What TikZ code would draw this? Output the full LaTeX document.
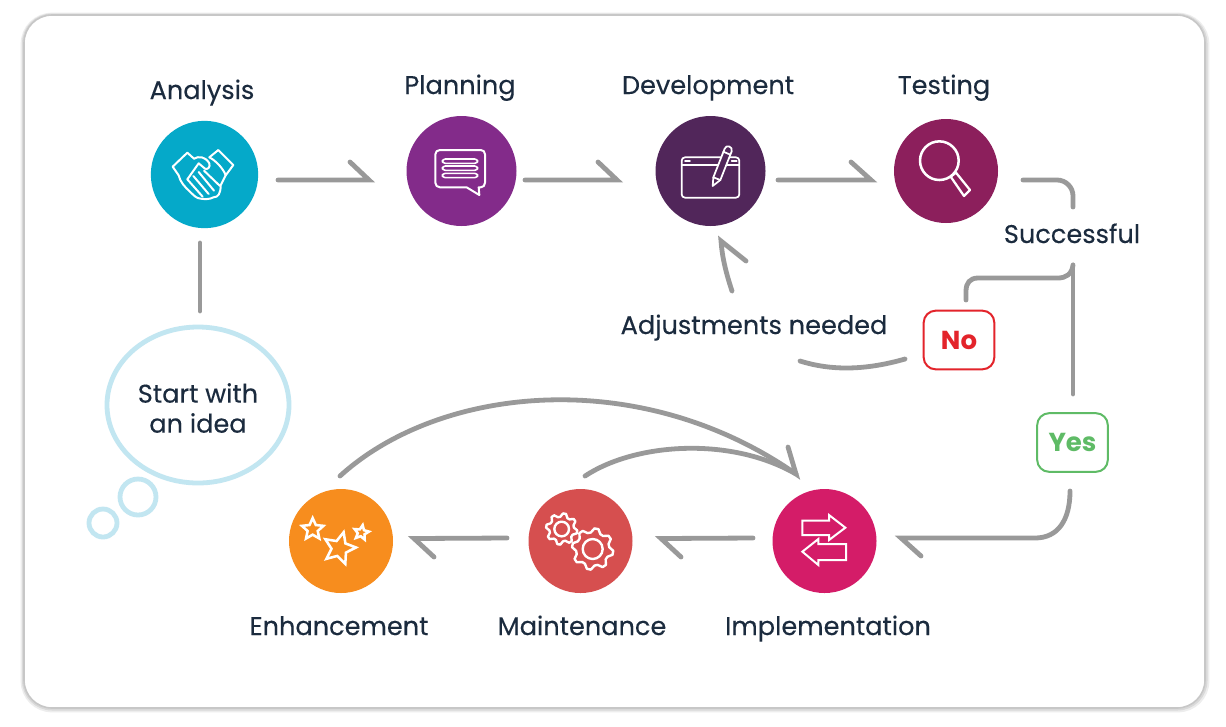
\documentclass[tikz,border=0pt]{standalone}
\usepackage{fontspec}
\setmainfont{Poppins}
\newfontfamily\labfont{Poppins}[FakeBold=0.25]
\usetikzlibrary{shapes.geometric,calc}
\definecolor{ink}{HTML}{1B2B3E}
\definecolor{wire}{HTML}{999999}
\definecolor{cAna}{HTML}{05A9C9}
\definecolor{cPla}{HTML}{832B8A}
\definecolor{cDev}{HTML}{51265A}
\definecolor{cTes}{HTML}{8C1F5C}
\definecolor{cEnh}{HTML}{F78D1E}
\definecolor{cMai}{HTML}{D64F4F}
\definecolor{cImp}{HTML}{D41C68}
\definecolor{bub}{HTML}{C2E6F1}
\definecolor{noR}{HTML}{E3242B}
\definecolor{yesG}{HTML}{5FBB66}
\tikzset{
  stage/.style={circle,inner sep=0pt,minimum size=#1,fill},
  lab/.style={text=ink,font=\labfont\fontsize{19.2}{22.5}\selectfont,inner sep=0pt,align=center,anchor=base},
  conn/.style={draw=wire,line width=3.6pt,line cap=round,line join=miter,miter limit=20},
  tagbox/.style={draw=#1,line width=1.5pt,rounded corners=9pt,minimum width=53pt,minimum height=44pt,inner sep=0pt,text=#1,font=\fontsize{19.5}{22}\selectfont\bfseries},
  ico/.style={draw=white,line width=1.5pt,line join=round,line cap=round},
  zoomed/.style={x=.25pt,y=-.25pt},
}
\newcommand{\iconstar}[5][]{% fill, cx, cy, R, rot
  \draw[ico,line join=miter,#1] plot[samples at={0,...,9},variable=\k]
   ({#2+(mod(\k,2)==0?#4:0.47*#4)*cos(#5+36*\k)},{#3+(mod(\k,2)==0?#4:0.47*#4)*sin(#5+36*\k)}) -- cycle;}
\newcommand{\icongear}[6]{% cx cy Router Rbody Rhole fill
  \draw[ico,line width=1.8pt,fill=#6] plot[samples at={0,...,31},variable=\k]
   ({#1+(mod(\k,4)<2?#3:#4)*cos(11.25*\k+5)},{#2+(mod(\k,4)<2?#3:#4)*sin(11.25*\k+5)}) -- cycle;
  \draw[ico,line width=1.8pt] (#1,#2) circle[radius=#5];}
\begin{document}
\begin{tikzpicture}[x=.75pt,y=-.75pt]
\useasboundingbox (0,0) rectangle (1226,726);
\fill[white] (0,0) rectangle (1226,726);
% card
\draw[black!7,line width=5pt,rounded corners=21pt] (24,16) rectangle (1206,709);
\draw[black!15,line width=3pt,rounded corners=21pt] (24,15.5) rectangle (1205.5,708.5);
\draw[black!22,line width=1.2pt,fill=white,rounded corners=21pt] (24,15) rectangle (1205,708);
% stages
\node[stage=80.5pt,fill=cAna] (ana) at (204.5,174.5) {};
\node[stage=82.5pt,fill=cPla] (pla) at (461.5,171) {};
\node[stage=82.5pt,fill=cDev] (dev) at (710.5,171) {};
\node[stage=78pt,fill=cTes] (tes) at (946,171) {};
\node[stage=78pt,fill=cEnh] (enh) at (341,541) {};
\node[stage=78pt,fill=cMai] (mai) at (580.5,541) {};
\node[stage=78pt,fill=cImp] (imp) at (824.5,541) {};
% labels
\node[lab] (lAna) at (202,99) {Analysis};
\node[lab] (lPla) at (460,94) {Planning};
\node[lab] (lDev) at (708,94) {Development};
\node[lab] (lTes) at (944,94) {Testing};
\node[lab] (lSuc) at (1072,243) {Successful};
\node[lab] (lAdj) at (754,334) {Adjustments needed};
\node[lab] (lEnh) at (339,635) {Enhancement};
\node[lab] (lMai) at (582,635) {Maintenance};
\node[lab] (lImp) at (828,635) {Implementation};
% idea bubble
\node[ellipse,draw=bub,line width=3.6pt,minimum width=136.5pt,minimum height=117pt,inner sep=0pt] (idea) at (198,405) {};
\node[lab,anchor=center] (ideaText) at (198,408) {Start with\\an idea};
\node[circle,draw=bub,line width=3.6pt,minimum size=27pt,inner sep=0pt] (b1) at (138,497) {};
\node[circle,draw=bub,line width=3.6pt,minimum size=21pt,inner sep=0pt] (b2) at (103,523) {};
% tags
\node[tagbox=noR] (no) at (959,340) {No};
\node[tagbox=yesG] (yes) at (1072.5,442.5) {Yes};
% connector ends
\coordinate (i0) at (200,311); \coordinate (i1) at (200,243);
\coordinate (a0) at (278,180); \coordinate (a1) at (369,180); \coordinate (a2) at (350,162);
\coordinate (p0) at (525,180); \coordinate (p1) at (617,180); \coordinate (p2) at (598,162);
\coordinate (d0) at (778,180); \coordinate (d1) at (871,180); \coordinate (d2) at (851,162);
\coordinate (t0) at (1023,180); \coordinate (t1) at (1073,180); \coordinate (t2) at (1073,207);
\coordinate (s0) at (1073,265); \coordinate (s1) at (1073,394);
\coordinate (n1) at (966,300);
\coordinate (n2) at (905,359); \coordinate (n3) at (800,361);
\coordinate (j0) at (732,291); \coordinate (j1) at (721,241); \coordinate (j2) at (746,261);
\coordinate (y0) at (1070,491); \coordinate (y1) at (901,538); \coordinate (y2) at (921,556);
\coordinate (m0) at (753,538); \coordinate (m1) at (661,538.5); \coordinate (m2) at (681,557);
\coordinate (e0) at (507,538); \coordinate (e1) at (414,538.5); \coordinate (e2) at (434,557);
\coordinate (k0) at (340,476); \coordinate (k1) at (585,476); \coordinate (k2) at (796,474); \coordinate (k3) at (788,447);
% connectors
\draw[conn] (i0) -- (i1);
\draw[conn] (a0) -- (a1) -- (a2);
\draw[conn] (p0) -- (p1) -- (p2);
\draw[conn] (d0) -- (d1) -- (d2);
\draw[conn,rounded corners=12pt] (t0) -- (t1) -- (t2);
\draw[conn] (s0) -- (s1);
\draw[conn] (s0) .. controls (1072,274) and (1066,278) .. (1058,278) -- (978,278) .. controls (970,278) and (966,283) .. (966,291) -- (n1);
\draw[conn] (n2) .. controls (870,369) and (835,372) .. (n3);
\draw[conn] (j0) .. controls (725,270) and (722,255) .. (j1) -- (j2);
\draw[conn] (y0) .. controls (1070,520) and (1058,538) .. (1035,538) -- (y1) -- (y2);
\draw[conn] (m0) -- (m1) -- (m2);
\draw[conn] (e0) -- (e1) -- (e2);
\draw[conn] (k1) .. controls (635,443) and (730,436) .. (k2);
\draw[conn] (k0) .. controls (440,385) and (640,365) .. (k2) -- (k3);
% handshake icon
\begin{scope}[shift={(130,100)},zoomed]
\draw[ico] (192,176) -- (172,158) -- (128,200) -- (146,226) .. controls (150,245) and (165,262) .. (180,275) .. controls (190,285) and (200,296) .. (212,296) .. controls (225,298) and (240,298) .. (250,292) .. controls (265,292) and (272,280) .. (272,256) -- (287,226) -- (310,195) -- (265,150) -- (238,172);
\draw[ico] (192,176) .. controls (205,168) and (225,168) .. (238,190) .. controls (242,202) and (232,210) .. (225,206) -- (206,190) -- (172,238);
\draw[ico] (238,172) .. controls (255,180) and (280,205) .. (287,226);
\draw[ico] (172,238) -- (218,290);
\draw[ico] (190,228) -- (236,282);
\draw[ico] (206,216) -- (252,272);
\draw[ico] (222,212) -- (270,258);
\end{scope}
% chat icon
\begin{scope}[shift={(130,100)},zoomed]
\draw[ico] (930,150) -- (1052,150) .. controls (1060,150) and (1065,155) .. (1065,163) -- (1065,248) .. controls (1065,256) and (1060,262) .. (1052,262) -- (1046,262) -- (1048,285) -- (1010,262) -- (930,262) .. controls (922,262) and (916,256) .. (916,248) -- (916,163) .. controls (916,155) and (922,150) .. (930,150) -- cycle;
\draw[ico,line width=1.2pt,rounded corners=2.2pt] (937,177) rectangle (1043,190);
\draw[ico,line width=1.2pt,rounded corners=2.2pt] (937,198) rectangle (1043,211);
\draw[ico,line width=1.2pt,rounded corners=2.2pt] (937,220) rectangle (1043,233);
\end{scope}
% tablet icon
\begin{scope}[shift={(640,100)},zoomed]
\draw[ico,line width=1.3pt,rounded corners=2.5pt] (125,172) rectangle (298,293);
\draw[ico,line width=1.3pt] (125,195) -- (298,195);
\draw[ico,line width=1.3pt] (135,183) -- (150,183) (275,183) -- (290,183);
\draw[ico,line width=1.3pt,fill=cDev] (218,258) -- (220,232) -- (254,146) .. controls (258,132) and (280,140) .. (275,154) -- (241,240) -- cycle;
\draw[ico,line width=1.3pt] (220,232) -- (241,240) (250,155) -- (271,164);
\end{scope}
% magnifier icon
\begin{scope}[shift={(640,100)},zoomed]
\draw[ico,line width=1.9pt] (898,182) circle[radius=58];
\draw[ico,line width=1.7pt] (932,230) -- (948,218) -- (990,270) -- (972,288) -- cycle;
\end{scope}
% stars icon
\begin{scope}[shift={(270,480)},zoomed]
\iconstar[line width=1.9pt]{128}{148}{34}{-90}
\iconstar[line width=1.9pt]{208}{205}{50}{-75}
\iconstar[line width=1.9pt]{274}{158}{23}{-80}
\end{scope}
% gears icon
\begin{scope}[shift={(270,480)},zoomed]
\icongear{875}{147}{47}{37}{22}{cMai}
\icongear{968}{207}{62}{50}{30}{cMai}
\end{scope}
% swap icon
\begin{scope}[shift={(760,400)},zoomed]
\draw[ico,line join=miter] (127,362) -- (207,362) -- (207,345) -- (256,383) -- (207,420) -- (207,405) -- (127,405) -- cycle;
\draw[ico,line join=miter] (258,432) -- (175,432) -- (175,417) -- (127,455) -- (175,495) -- (175,480) -- (258,480) -- cycle;
\end{scope}
\end{tikzpicture}
\end{document}
